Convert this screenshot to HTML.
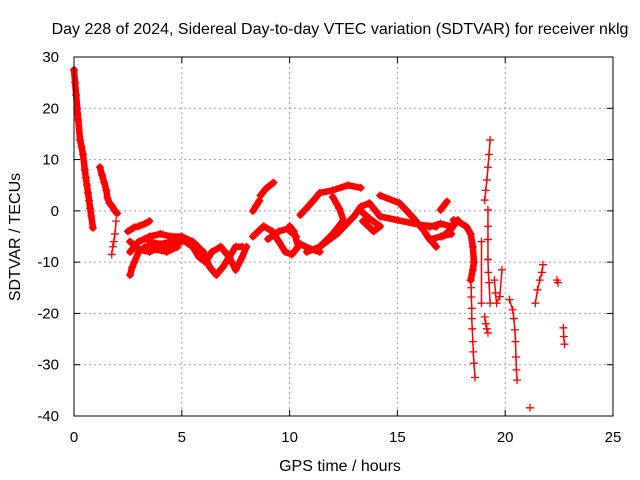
<!DOCTYPE html>
<html><head><meta charset="utf-8"><style>
body{margin:0;background:#fff}
svg{display:block;font-family:"Liberation Sans",sans-serif}
</style></head><body>
<svg id="chart" width="640" height="480" viewBox="0 0 640 480">
<rect width="640" height="480" fill="#fff"/>
<text x="340" y="34" font-size="16" text-anchor="middle">Day 228 of 2024, Sidereal Day-to-day VTEC variation (SDTVAR) for receiver nklg</text>
<text x="340" y="471" font-size="16" text-anchor="middle">GPS time / hours</text>
<text transform="translate(20,237) rotate(-90)" font-size="16" text-anchor="middle">SDTVAR / TECUs</text>
<g id="grid"></g>
<g id="axes"></g>
<g id="marks"></g>
<rect x="74" y="57" width="539" height="359" fill="none" stroke="#000" stroke-width="1"/>
</svg>
<script>
const xTicks=[0,5,10,15,20,25];
const yTicks=[30,20,10,0,-10,-20,-30,-40];
const tracks=[
 {dense:1,h:[0,0.05,0.1,0.15,0.2,0.28,0.35,0.42,0.5,0.55,0.6,0.65,0.7,0.75,0.8,0.88],v:[27.5,25,22.6,20,17.7,13.8,12.5,11,8,6.5,5,3.5,2,0.5,-1,-3.3]},
 {dense:1,h:[1.2,1.3,1.4,1.5,1.55,1.65,1.75,1.9,2.0],v:[8.5,7,5.5,4,2.5,1.5,1,0,-0.5]},
 {dense:0,h:[1.75,1.8,1.85,1.9,1.95],v:[-8.5,-7,-6,-4.5,-2]},
 {dense:1,h:[2.5,2.8,3.0,3.3,3.5],v:[-4,-3.2,-3,-2.5,-2]},
 {dense:1,h:[2.6,2.7,2.8,3.0,3.3,3.8,4.3,4.8],v:[-12.5,-11,-10,-8,-7,-7.5,-8,-7]},
 {dense:1,h:[2.6,3.0,3.5,4.0,4.5,5.0,5.5,6.0,6.3,6.6,6.9,7.2,7.5,7.8],v:[-8,-6,-5,-4.5,-5,-5,-6,-8,-11,-12.5,-11,-9,-7,-7]},
 {dense:1,h:[3.5,4.0,4.5,5.0,5.5,5.8,6.1,6.4,6.8,7.2,7.5,7.8,8.0],v:[-6,-6.5,-6,-5.5,-7,-9,-10,-8,-7,-9,-11.5,-9,-7]},
 {dense:1,h:[2.6,3.0,3.5,4.0,4.5,5.0],v:[-6,-7.5,-8,-7,-6.5,-6]},
 {dense:1,h:[8.3,8.45,8.6],v:[0,1,2]},
 {dense:1,h:[8.65,8.9,9.25],v:[3,4.3,5.5]},
 {dense:1,h:[8.3,8.8,9.2,9.5,9.8,10.1,10.4,10.2,10.0],v:[-5,-3,-4,-6,-8,-8.5,-7,-4,-3]},
 {dense:1,h:[9.0,9.5,9.9,10.3],v:[-5.5,-4,-3.5,-5]},
 {dense:1,h:[10.5,11.0,11.4],v:[-6.5,-7.5,-8]},
 {dense:1,h:[10.5,11.0,11.4,12.0,12.7,13.3],v:[-0.8,1.5,3.5,4,5,4.5]},
 {dense:1,h:[12.0,12.3,12.5,12.0,11.4,10.8],v:[2.7,0.5,-1.8,-4.5,-7,-8]},
 {dense:1,h:[11.4,12.2,13.0,13.3,13.7,14.2,15.0,16.0,16.8],v:[-7,-4.5,-1,0.8,1.5,-1.1,-1.8,-2.7,-3.1]},
 {dense:1,h:[14.2,15.1,15.7,16.2,16.4,16.8],v:[3,1.5,-1.2,-3.7,-5,-7]},
 {dense:1,h:[13.3,13.7,14.2,13.9,13.4],v:[0,-1.5,-3,-4,-2]},
 {dense:1,h:[16.5,17.0,17.5],v:[-3.1,-2.5,-3]},
 {dense:1,h:[16.5,17.0,17.5],v:[-5.6,-5,-4.5]},
 {dense:1,h:[17.1,17.5,17.8],v:[-5,-3.5,-1.8]},
 {dense:1,h:[17.0,17.3],v:[0.2,1.8]},
 {dense:1,h:[17.6,17.8,18.2,18.4,18.5,18.55,18.5,18.4],v:[-1.8,-2,-3.1,-4.5,-7,-10,-11.5,-13.5]},
 {dense:0,h:[18.4,18.42,18.43,18.45,18.45,18.47,18.5,18.52,18.55,18.6],v:[-13.5,-15,-16.8,-19,-21,-23,-25.5,-27.5,-29.7,-32.5]},
 {dense:0,h:[19.05,19.1,19.15,19.2,19.25,19.3],v:[2.1,4,6,8.5,11,13.8]},
 {dense:0,h:[19.2,19.2,19.2,19.2,19.22,19.25,19.3],v:[0.2,-3,-5.6,-9.5,-12,-14,-18]},
 {dense:0,h:[19.05,19.1,19.15,19.2],v:[-20.7,-22,-23,-23.8]},
 {dense:0,h:[19.5,19.55,19.6,19.75,19.85],v:[-13.5,-16,-18,-16.7,-11.5]},
 {dense:0,h:[18.9,18.9],v:[-6,-18]},
 {dense:0,h:[20.2,20.35,20.4,20.45,20.48,20.5,20.52,20.55],v:[-17.3,-19.3,-21,-23.2,-25.5,-28.5,-31,-33]},
 {dense:0,h:[21.15],v:[-38.4]},
 {dense:0,h:[21.4,21.5,21.6,21.7,21.75],v:[-18,-15.4,-13.5,-12,-10.5]},
 {dense:0,h:[22.4,22.45],v:[-13.5,-14]},
 {dense:0,h:[22.7,22.72,22.75],v:[-22.8,-24.5,-26]}
];
const NS='http://www.w3.org/2000/svg';
const X=h=>74+h*539/25, Y=v=>57+(30-v)*359/70;
function mk(t,a,p){const e=document.createElementNS(NS,t);for(const k in a)e.setAttribute(k,a[k]);p.appendChild(e);return e;}
const grid=document.getElementById('grid'),axes=document.getElementById('axes'),marks=document.getElementById('marks');
xTicks.forEach(t=>{const x=X(t);
 if(t>0&&t<25){const g=mk('line',{x1:x,x2:x,y1:57,y2:416,stroke:'#a0a0a0','stroke-dasharray':'2,3'},grid);
 }
 mk('line',{x1:x,x2:x,y1:416,y2:410,stroke:'#000'},axes);mk('line',{x1:x,x2:x,y1:57,y2:63,stroke:'#000'},axes);
 const l=mk('text',{x:x,y:442,'font-size':15,'text-anchor':'middle'},axes);l.textContent=t;
 });
yTicks.forEach(t=>{const y=Y(t);
 if(t<30&&t>-40){const g=mk('line',{x1:74,x2:613,y1:y,y2:y,stroke:'#a0a0a0','stroke-dasharray':'2,3'},grid);
 }
 mk('line',{x1:74,x2:80,y1:y,y2:y,stroke:'#000'},axes);mk('line',{x1:613,x2:607,y1:y,y2:y,stroke:'#000'},axes);
 const l=mk('text',{x:59,y:y+5,'font-size':15,'text-anchor':'end'},axes);l.textContent=t;
 });
tracks.forEach(tr=>{
 const pts=tr.h.map((h,i)=>X(h)+','+Y(tr.v[i])).join(' ');
 const pl=mk('polyline',{points:pts,fill:'none',stroke:'#f00','stroke-width':tr.dense?6.5:1.5,'stroke-linejoin':'round','stroke-linecap':'round'},marks);
 
 
 tr.h.forEach((h,i)=>{const x=X(h),y=Y(tr.v[i]);
  const p=mk('path',{d:`M${x-4},${y}h8M${x},${y-4}v8`,stroke:'#f00','stroke-width':1.3,fill:'none'},marks);
  
  });
});
</script>
</body></html>
